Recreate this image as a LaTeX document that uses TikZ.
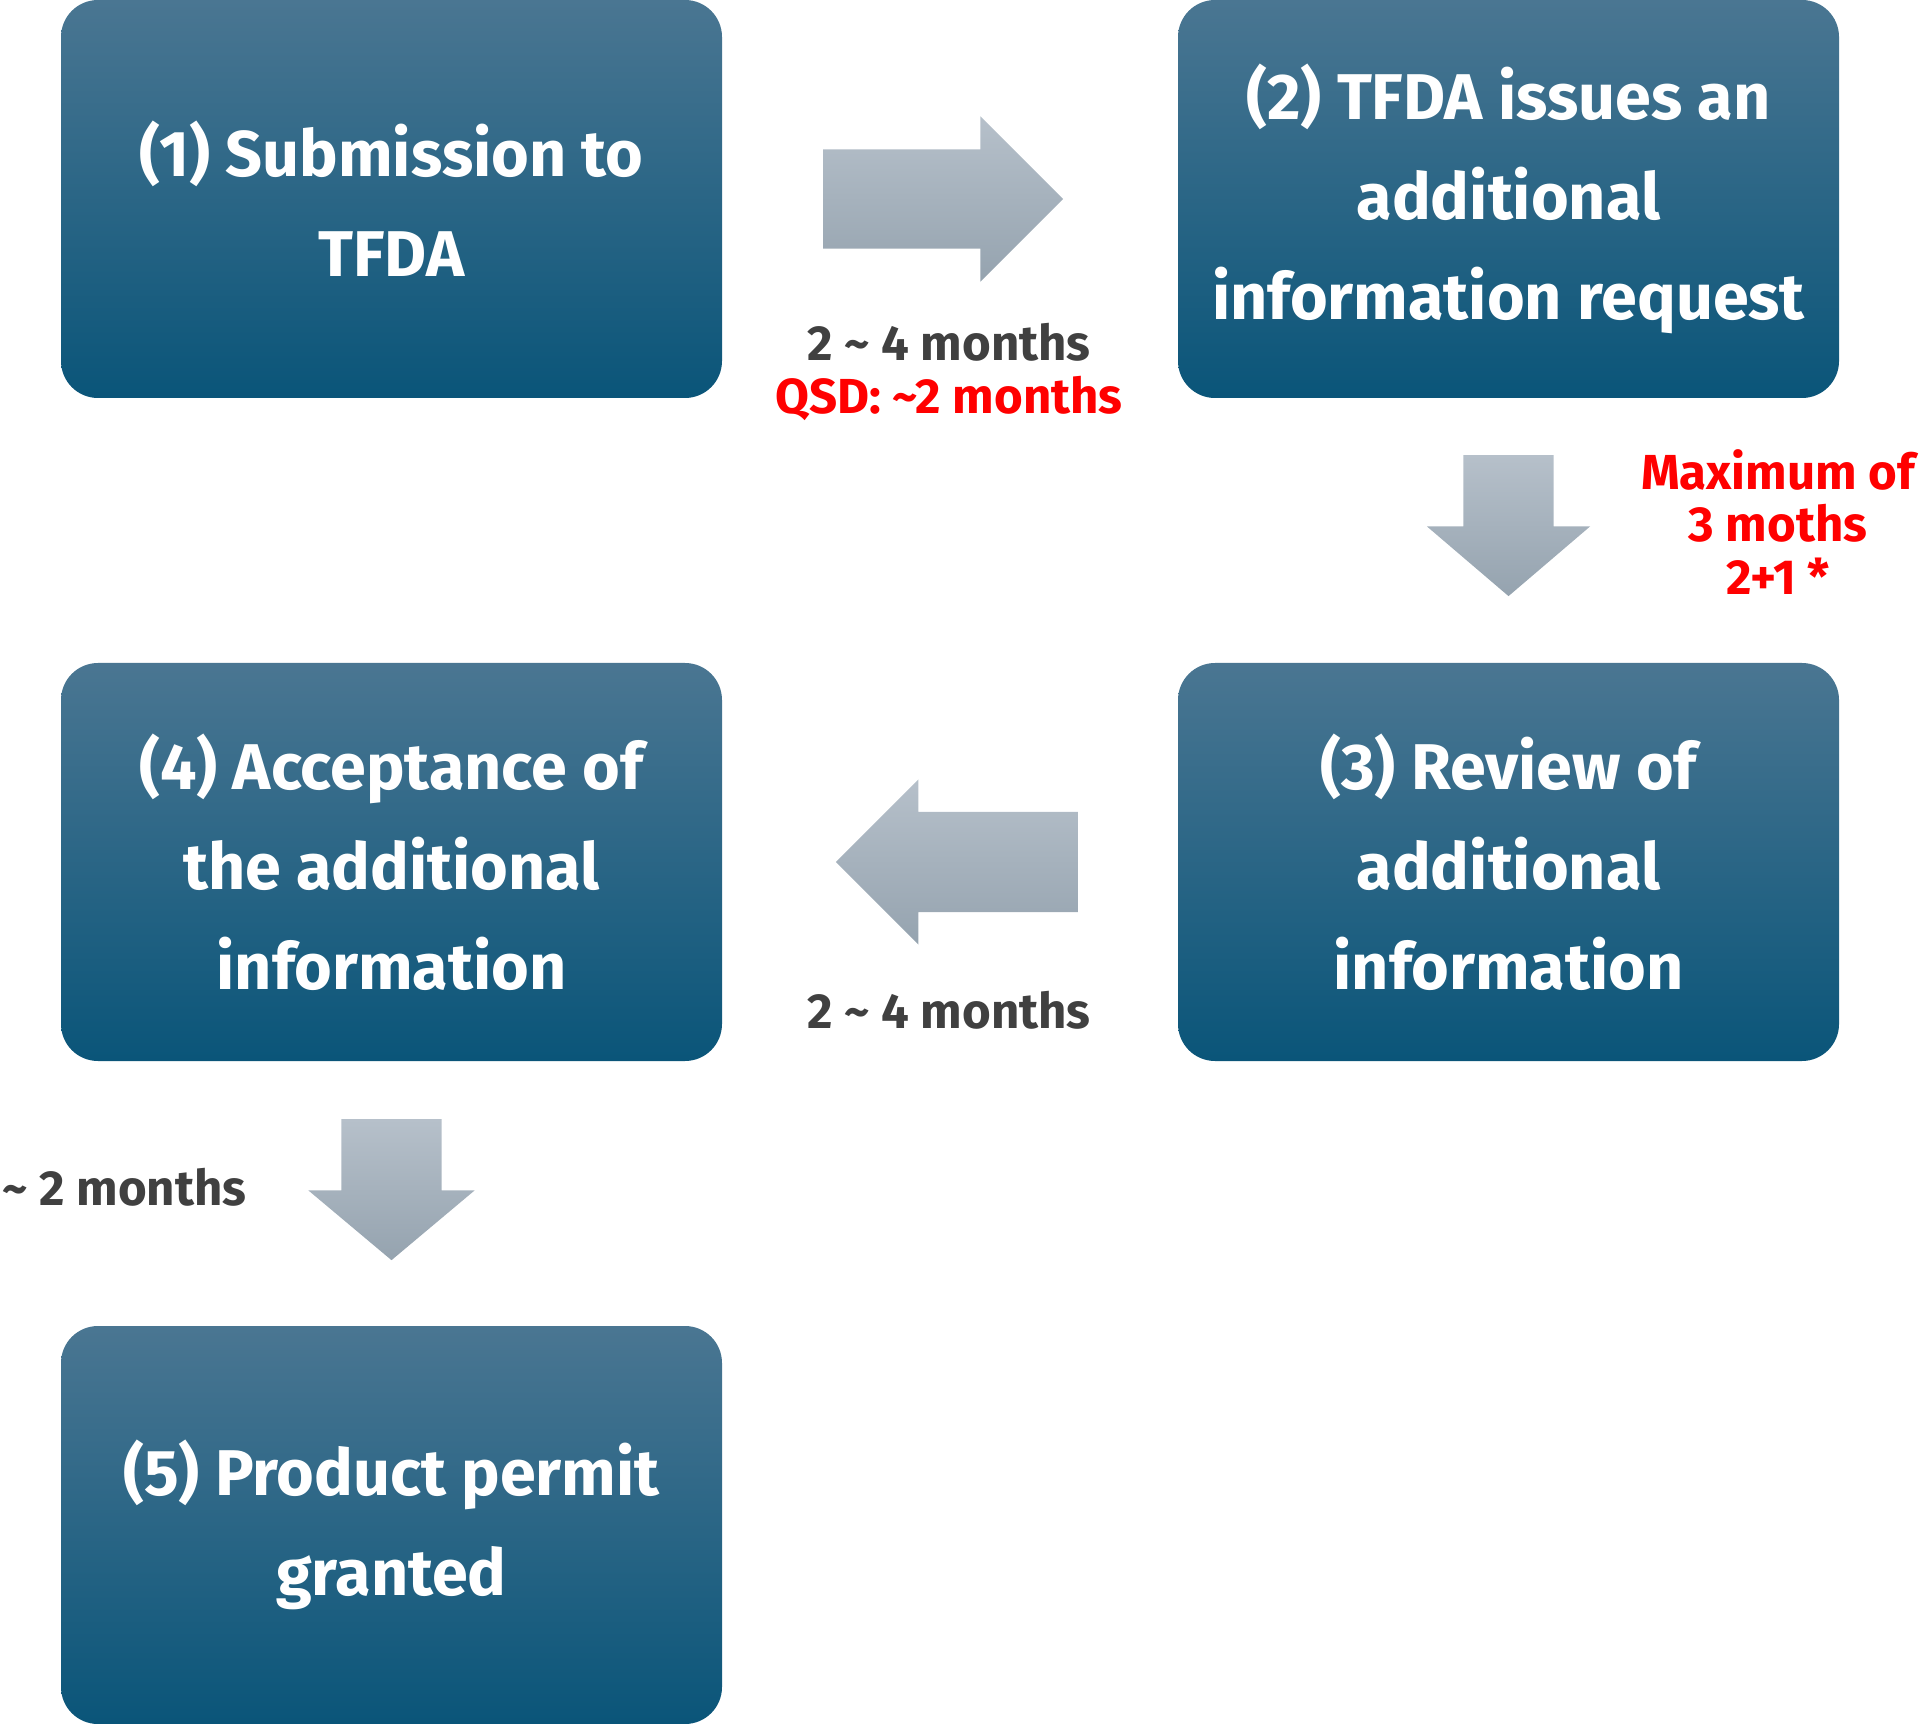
\documentclass[tikz,border=0pt]{standalone}
\usepackage{fontspec}
\setmainfont{Fira Sans}
\usetikzlibrary{shapes.arrows,positioning,calc}
\definecolor{boxtop}{HTML}{4A7692}
\definecolor{boxmid}{HTML}{106085}
\definecolor{boxbot}{HTML}{0A5579}
\definecolor{arrtop}{HTML}{B6C0CA}
\definecolor{arrbot}{HTML}{95A3AF}
\definecolor{ink}{HTML}{404040}
\definecolor{alert}{HTML}{FF0000}
\tikzset{
  stepbox/.style={rounded corners=3.7mm,top color=boxtop,middle color=boxmid,bottom color=boxbot,minimum width=66.1mm,minimum height=39.8mm,align=center,text=white,inner sep=0pt,font=\fontsize{18.4}{28.45}\selectfont\bfseries},
  blockarrow/.style={single arrow,inner xsep=0pt,outer sep=0pt,draw=none,anchor=tail,top color=arrtop,bottom color=arrbot},
  rightarr/.style={blockarrow},
  leftarr/.style={blockarrow,rotate=180},
  downarr/.style={blockarrow,rotate=-90},
  timenote/.style={font=\fontsize{14}{16}\selectfont\bfseries,text=ink,inner sep=0pt,align=center},
  rednote/.style={timenote,text=alert,font=\fontsize{14}{15}\selectfont\bfseries},
}
\begin{document}
\begin{tikzpicture}
\useasboundingbox (0,0) rectangle (19.2,-17.24);
\node[stepbox] (submit) at (3.915,-1.99) {(1) Submission to\\TFDA};
\node[stepbox] (request) at (15.085,-1.99) {(2) TFDA issues an\\additional\\information request};
\node[stepbox] (review) at (15.085,-8.62) {(3) Review of\\additional\\information};
\node[stepbox] (accept) at (3.915,-8.62) {(4) Acceptance of\\the additional\\information};
\node[stepbox] (permit) at (3.915,-15.25) {(5) Product permit\\granted};
\node[rightarr,minimum height=24mm,inner ysep=4.9mm,single arrow head extend=3.3mm,single arrow tip angle=90] (submit-request) at ($(submit.east)!0.221!(request.west)$) {};
\node[downarr,minimum height=14.1mm,inner ysep=4.45mm,single arrow head extend=3.65mm,single arrow tip angle=99] (request-review) at ($(request.south)!0.214!(review.north)$) {};
\node[leftarr,minimum height=24.2mm,inner ysep=4.95mm,single arrow head extend=3.25mm,single arrow tip angle=90] (review-accept) at ($(review.west)!0.219!(accept.east)$) {};
\node[downarr,minimum height=14.1mm,inner ysep=4.95mm,single arrow head extend=3.3mm,single arrow tip angle=100] (accept-permit) at ($(accept.south)!0.218!(permit.north)$) {};
\node[timenote] (time12) at (9.49,-3.42) {2 \textasciitilde{} 4 months};
\node[rednote] (qsd12) at (9.49,-3.98) {QSD: \textasciitilde2 months};
\node[rednote] (time23) at (17.78,-5.22) {Maximum of\\3 moths\\2+1 *};
\node[timenote] (time34) at (9.49,-10.10) {2 \textasciitilde{} 4 months};
\node[timenote,anchor=east] (time45) at (2.47,-11.87) {\textasciitilde{} 2 months};
\end{tikzpicture}
\end{document}
